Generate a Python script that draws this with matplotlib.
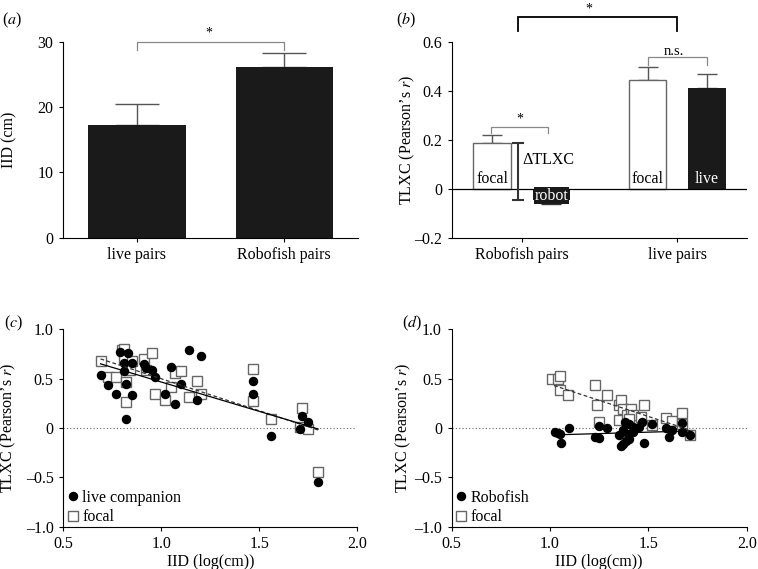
import numpy as np
import matplotlib
matplotlib.use("Agg")
from matplotlib import pyplot as plt

plt.rcParams['font.family'] = ['Liberation Serif', 'DejaVu Serif']
plt.rcParams['font.size'] = 11.5
plt.rcParams['mathtext.fontset'] = 'stix'

# (a) inter-individual distance
a_categories = ['live pairs', 'Robofish pairs']
a_means = [17.3, 26.1]
a_sem = [3.1, 2.1]

# (b) TLXC per pair type
b_groups = ['Robofish pairs', 'live pairs']
b_focal = [0.187, 0.443]
b_focal_err = [0.031, 0.055]
b_partner = [-0.048, 0.412]
b_partner_err = [0.013, 0.056]
b_partner_labels = ['robot', 'live']
b_yticks = [-0.2, 0, 0.2, 0.4, 0.6]
b_yticklabels = ['\u20130.2', '0', '0.2', '0.4', '0.6']

# (c) live pairs: IID vs TLXC
c_live_x = [0.69, 0.73, 0.77, 0.79, 0.83, 0.81, 0.85, 0.81, 0.82, 0.82, 0.85, 0.91, 0.92,
            0.95, 0.97, 1.02, 1.05, 1.07, 1.10, 1.14, 1.18, 1.20, 1.47, 1.47, 1.56, 1.71,
            1.72, 1.75, 1.80]
c_live_y = [0.54, 0.44, 0.34, 0.77, 0.76, 0.66, 0.66, 0.58, 0.45, 0.09, 0.33, 0.65, 0.61,
            0.59, 0.52, 0.34, 0.62, 0.24, 0.45, 0.79, 0.28, 0.73, 0.48, 0.34, -0.08, -0.01,
            0.12, 0.06, -0.55]
c_focal_x = [0.69, 0.73, 0.77, 0.80, 0.81, 0.81, 0.82, 0.82, 0.85, 0.84, 0.91, 0.92, 0.95,
             0.97, 1.02, 1.05, 1.07, 1.10, 1.14, 1.18, 1.20, 1.47, 1.47, 1.56, 1.72, 1.71,
             1.75, 1.80]
c_focal_y = [0.68, 0.52, 0.52, 0.79, 0.80, 0.70, 0.47, 0.26, 0.68, 0.59, 0.70, 0.585, 0.755,
             0.34, 0.28, 0.42, 0.56, 0.58, 0.31, 0.48, 0.34, 0.60, 0.27, 0.09, 0.20, 0.01,
             -0.01, -0.45]
c_live_fit_x = [0.69, 1.80]
c_live_fit_y = [0.65, -0.01]
c_focal_fit_x = [0.69, 1.80]
c_focal_fit_y = [0.70, -0.02]

# (d) Robofish pairs: IID vs TLXC
d_robo_x = [1.025, 1.04, 1.05, 1.055, 1.095, 1.23, 1.25, 1.25, 1.29, 1.35, 1.36, 1.37,
            1.38, 1.37, 1.385, 1.395, 1.40, 1.42, 1.42, 1.45, 1.47, 1.48, 1.52, 1.59,
            1.605, 1.62, 1.67, 1.67, 1.71, 1.40]
d_robo_y = [-0.04, -0.05, -0.06, -0.15, 0.0, -0.09, -0.105, 0.02, 0.0, -0.07, -0.18, -0.02,
            0.065, -0.16, -0.135, -0.06, 0.04, 0.01, -0.045, 0.01, 0.06, -0.155, 0.04,
            -0.005, -0.09, -0.02, 0.05, -0.04, -0.07, -0.11]
d_focal_x = [1.01, 1.04, 1.05, 1.05, 1.09, 1.23, 1.24, 1.29, 1.25, 1.35, 1.36, 1.35, 1.37,
             1.39, 1.41, 1.42, 1.46, 1.48, 1.52, 1.59, 1.62, 1.67, 1.67, 1.71, 1.40]
d_focal_y = [0.50, 0.50, 0.53, 0.39, 0.33, 0.44, 0.23, 0.33, 0.065, 0.23, 0.28, 0.08, 0.19,
             0.13, 0.19, 0.13, 0.11, 0.23, 0.035, 0.105, 0.07, 0.04, 0.15, -0.07, 0.09]
d_robo_fit_x = [1.02, 1.71]
d_robo_fit_y = [-0.07, -0.03]
d_focal_fit_x = [1.02, 1.71]
d_focal_fit_y = [0.43, -0.02]

sc_ticks = [0.5, 1.0, 1.5, 2.0]
sc_yticks = [-1.0, -0.5, 0, 0.5, 1.0]
sc_yticklabels = ['\u20131.0', '\u20130.5', '0', '0.5', '1.0']

ylabel_tlxc = 'TLXC (Pearson\u2019s $\\mathit{r}$)'

fig = plt.figure(figsize=(7.58, 5.69), dpi=100)


def style(ax):
    ax.spines['top'].set_visible(False)
    ax.spines['right'].set_visible(False)
    ax.tick_params(direction='out', length=3, width=0.8, pad=4)


def bracket(ax, x0, x1, ylow, yhigh, color, lw):
    ax.plot([x0, x0, x1, x1], [ylow, yhigh, yhigh, ylow], color=color, lw=lw,
            clip_on=False, solid_joinstyle='miter')


# ---- (a)
ax = fig.add_axes([0.0835, 0.5822, 0.3888, 0.3445])
style(ax)
xa = np.arange(len(a_categories))
ax.bar(xa, a_means, width=0.66, color='#1a1a1a', zorder=2)
ax.errorbar(xa, a_means, yerr=[np.zeros(2), a_sem], fmt='none', ecolor='#555555',
            elinewidth=1, capsize=16, capthick=1, zorder=1)
ax.set_xlim(-0.5, 1.5)
ax.set_ylim(0, 30)
ax.set_yticks([0, 10, 20, 30])
ax.set_xticks(xa)
ax.set_xticklabels(a_categories)
ax.set_ylabel('IID (cm)')
ax.yaxis.set_label_coords(-0.157, 0.5)
bracket(ax, 0, 1, 28.8, 29.9, '#888888', 0.9)
ax.text(0.49, 31.3, '*', ha='center', va='center', fontsize=10)

# ---- (b)
ax = fig.add_axes([0.5959, 0.5822, 0.39, 0.3445])
style(ax)
xb = np.arange(len(b_groups))
off, w = 0.19, 0.24
ax.bar(xb - off, b_focal, width=w, color='white', edgecolor='#666666', lw=1, zorder=2)
ax.bar(xb + off, b_partner, width=w, color='#1a1a1a', zorder=2)
ax.errorbar(xb - off, b_focal, yerr=[np.zeros(2), b_focal_err], fmt='none',
            ecolor='#555555', elinewidth=1, capsize=7, capthick=1, zorder=1)
ax.errorbar(xb[1] + off, b_partner[1], yerr=[[0], [b_partner_err[1]]], fmt='none',
            ecolor='#555555', elinewidth=1, capsize=7, capthick=1, zorder=1)
ax.errorbar(xb[0] + off, b_partner[0], yerr=[[b_partner_err[0]], [0]], fmt='none',
            ecolor='#333333', elinewidth=1, capsize=7, capthick=1, zorder=1)
ax.axhline(0, color='black', lw=0.9, zorder=3)
# delta TLXC
dx = xb[0] - 0.025
ax.errorbar([dx], [(b_focal[0] + b_partner[0]) / 2],
            yerr=[[(b_focal[0] - b_partner[0]) / 2]], fmt='none', ecolor='#333333',
            elinewidth=1.5, capsize=4, capthick=1.5, zorder=4)
ax.text(dx + 0.03, 0.116, '\u0394TLXC', ha='left', va='center')
for i in range(2):
    ax.text(xb[i] - off, 0.008, 'focal', ha='center', va='bottom', zorder=5)
ax.text(xb[0] + off, -0.028, b_partner_labels[0], ha='center', va='center', color='white',
        zorder=5, bbox=dict(boxstyle='square,pad=0.05', fc='#1a1a1a', ec='none'))
ax.text(xb[1] + off, 0.008, b_partner_labels[1], ha='center', va='bottom', color='white',
        zorder=5)
ax.set_xlim(-0.45, 1.45)
ax.set_ylim(-0.2, 0.6)
ax.set_yticks(b_yticks)
ax.set_yticklabels(b_yticklabels)
ax.set_xticks(xb)
ax.set_xticklabels(b_groups)
ax.set_ylabel(ylabel_tlxc)
ax.yaxis.set_label_coords(-0.118, 0.5)
bracket(ax, xb[0] - 0.2, xb[0] + 0.17, 0.228, 0.252, '#888888', 0.9)
ax.text(xb[0] - 0.01, 0.285, '*', ha='center', va='center', fontsize=10)
bracket(ax, xb[1] - 0.186, xb[1] + 0.192, 0.505, 0.536, '#888888', 0.9)
ax.text(xb[1] - 0.02, 0.562, 'n.s.', ha='center', va='center', fontsize=10.5)
bracket(ax, dx, xb[1], 0.645, 0.70, 'black', 1.3)
ax.text(0.43, 0.735, '*', ha='center', va='center', fontsize=10)


def scatter_panel(rect, px, py, pfx, pfy, fx, fy, ffx, ffy, label, ylab_x):
    ax = fig.add_axes(rect)
    style(ax)
    ax.axhline(0, color='#666666', lw=0.8, ls=(0, (1, 2)), zorder=0)
    ax.plot(fx, fy, 's', ms=6.5, mfc='white', mec='#666666', mew=1, label='focal', zorder=2)
    ax.plot(px, py, 'o', ms=5.8, color='black', label=label, zorder=3)
    ax.plot(ffx, ffy, color='#333333', lw=0.9, ls=(0, (3, 2)), zorder=4)
    ax.plot(pfx, pfy, color='black', lw=0.9, zorder=4)
    ax.set_xlim(0.5, 2.0)
    ax.set_ylim(-1.0, 1.0)
    ax.set_xticks(sc_ticks)
    ax.set_xticklabels(['%.1f' % t for t in sc_ticks])
    ax.set_yticks(sc_yticks)
    ax.set_yticklabels(sc_yticklabels)
    ax.set_ylabel(ylabel_tlxc)
    ax.yaxis.set_label_coords(ylab_x, 0.5)
    ax.set_xlabel('IID (log(cm))', labelpad=1)
    h, l = ax.get_legend_handles_labels()
    ax.legend(h[::-1], l[::-1], loc='lower left', frameon=False, handletextpad=0.1,
              handlelength=1.0, borderaxespad=0.0, labelspacing=0.2, borderpad=0.1)
    return ax


scatter_panel([0.0835, 0.0743, 0.3879, 0.347], c_live_x, c_live_y, c_live_fit_x,
              c_live_fit_y, c_focal_x, c_focal_y, c_focal_fit_x, c_focal_fit_y,
              'live companion', -0.154)
scatter_panel([0.5959, 0.0743, 0.3892, 0.347], d_robo_x, d_robo_y, d_robo_fit_x,
              d_robo_fit_y, d_focal_x, d_focal_y, d_focal_fit_x, d_focal_fit_y,
              'Robofish', -0.131)

for x, y, s in [(0.002, 0.965, 'a'), (0.522, 0.965, 'b'), (0.005, 0.432, 'c'),
                (0.531, 0.432, 'd')]:
    fig.text(x, y, '($\\mathit{%s}$)' % s, ha='left', va='center', fontsize=11.5)

fig.savefig('out.png', dpi=100)
